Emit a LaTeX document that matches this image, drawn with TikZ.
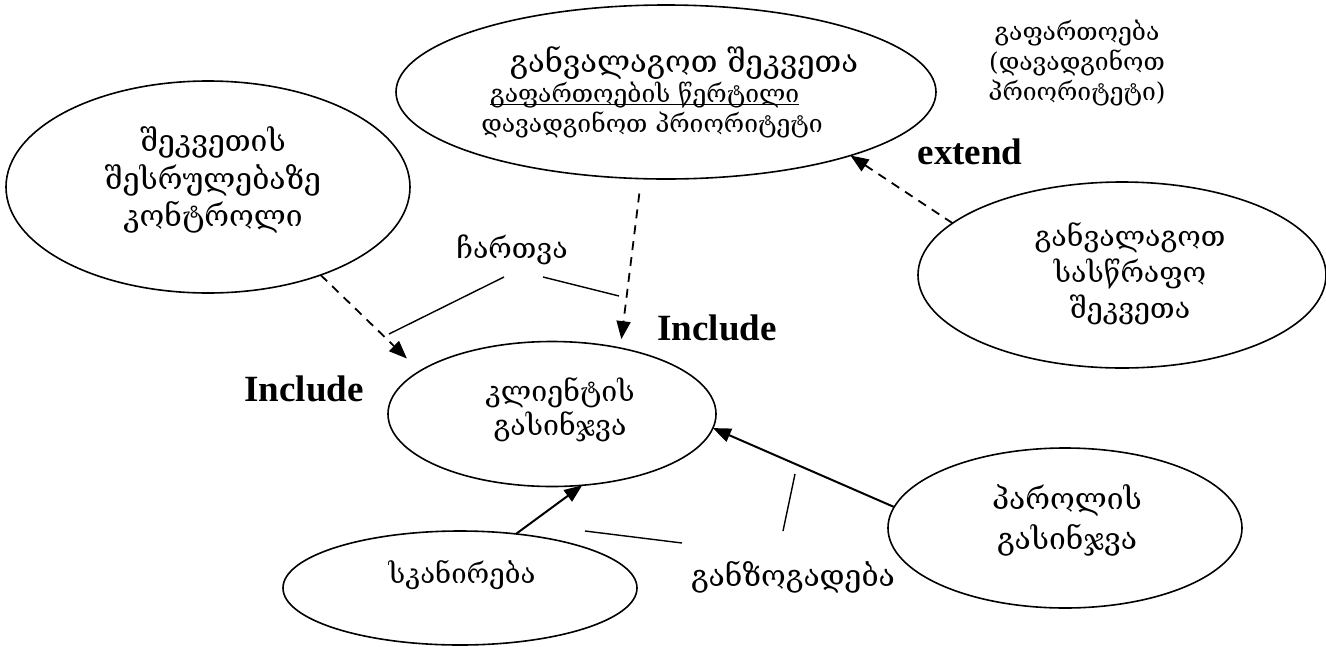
\documentclass[tikz,border=0pt]{standalone}
\usepackage{fontspec}
\setmainfont{Liberation Serif}
\newfontfamily\geo{DejaVu Serif}
\usetikzlibrary{shapes.geometric,arrows.meta}
\begin{document}
\begin{tikzpicture}[x=1pt,y=-1pt,
  usecase/.style={draw, ellipse, line width=1.6pt, inner sep=0pt, outer sep=0pt},
  geotext/.style={font=\geo\fontsize{28.5}{36}\selectfont, align=center, inner sep=0pt},
  geosmall/.style={font=\geo\fontsize{24.7}{30}\selectfont, align=center, inner sep=0pt},
  stereo/.style={font=\bfseries\fontsize{37}{40}\selectfont, inner sep=0pt},
  dep/.style={line width=1.8pt, dash pattern=on 9pt off 7pt, -{Triangle[length=18pt,width=14pt]}},
  assoc/.style={line width=2pt, -{Triangle[length=18pt,width=14pt]}},
  tick/.style={line width=1.4pt}
]
\useasboundingbox (0,0) rectangle (1326,646);

% use cases
\node[usecase, minimum width=540pt, minimum height=174pt] (plan) at (666,92) {};
\node[usecase, minimum width=404pt, minimum height=212pt] (ctrl) at (208,187) {};
\node[usecase, minimum width=328pt, minimum height=145pt] (client) at (552,414) {};
\node[usecase, minimum width=408pt, minimum height=186pt] (urgent) at (1122,275) {};
\node[usecase, minimum width=354pt, minimum height=160pt] (pass) at (1065,528) {};
\node[usecase, minimum width=354pt, minimum height=114pt] (scan) at (460,588) {};

% texts inside the use cases
\node[geotext, font=\geo\fontsize{31}{36}\selectfont] (plan-t1) at (684,63) {განვალაგოთ შეკვეთა};
\node[geosmall, anchor=west] (plan-t2) at (490,95) {გაფართოების წერტილი};
\node[geosmall] (plan-t3) at (652,125) {დავადგინოთ პრიორიტეტი};
\draw[line width=1.4pt] ([yshift=-2pt]plan-t2.base west) -- ([yshift=-2pt]plan-t2.base east);

\node[geotext, font=\geo\fontsize{30}{37.5}\selectfont] (ctrl-t) at (213,180) {შეკვეთის\\შესრულებაზე\\კონტროლი};
\node[geotext, font=\geo\fontsize{28.5}{34}\selectfont] (client-t) at (560,410) {კლიენტის\\გასინჯვა};
\node[geotext] (urgent-t) at (1130,274) {განვალაგოთ\\სასწრაფო\\შეკვეთა};
\node[geotext, font=\geo\fontsize{30}{40}\selectfont] (pass-t) at (1067,520) {პაროლის\\გასინჯვა};
\node[geotext, font=\geo\fontsize{27.5}{34}\selectfont] (scan-t) at (462,575) {სკანირება};

% free labels
\node[geosmall] (note) at (1077,63) {გაფართოება\\(დავადგინოთ\\პრიორიტეტი)};
\node[geotext] (incl-lbl) at (512,250) {ჩართვა};
\node[geotext, font=\geo\fontsize{30}{36}\selectfont] (gen-lbl) at (793,577) {განზოგადება};
\node[stereo] (incl-l) at (304,389) {Include};
\node[stereo] (incl-r) at (717,328) {Include};
\node[stereo] (ext) at (970,152) {extend};

% relations
\draw[dep, shorten >=18pt] (ctrl.-38) -- (client.162);
\draw[dep, shorten <=15pt, shorten >=9pt] (plan.-106) -- (client.44);
\draw[dep] (urgent.163) -- (plan.-19);
\draw[assoc] (pass.173.5) -- (client.-5);
\draw[assoc] (scan.44) -- (client.-67);

% pointer strokes next to the labels
\coordinate (c1a) at (504,277); \coordinate (c1b) at (389,334);
\coordinate (c2a) at (543,277); \coordinate (c2b) at (619,296);
\coordinate (g1a) at (585,531); \coordinate (g1b) at (682,543);
\coordinate (g2a) at (795,474); \coordinate (g2b) at (783,531);
\draw[tick] (c1a) -- (c1b);
\draw[tick] (c2a) -- (c2b);
\draw[tick] (g1a) -- (g1b);
\draw[tick] (g2a) -- (g2b);
\end{tikzpicture}
\end{document}
